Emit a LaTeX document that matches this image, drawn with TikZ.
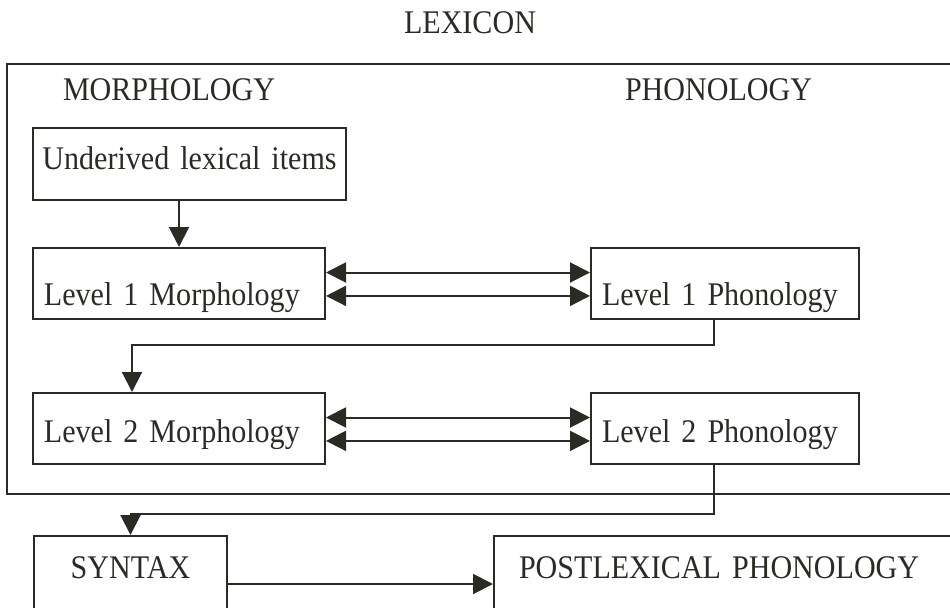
\documentclass[tikz,border=0pt]{standalone}
\usepackage{fontspec}
\setmainfont{Liberation Serif}[FakeStretch=0.91]
\usepackage{xcolor}
\usetikzlibrary{arrows.meta,positioning,calc}
\definecolor{lexink}{HTML}{2B2B25}
\newcommand\lexfont{\fontsize{23.5pt}{28pt}\selectfont\spaceskip=4.5pt plus 1pt\relax}

\begin{document}
\begin{tikzpicture}[font=\lexfont, color=lexink, line width=0.5mm,
  blk/.style={draw, anchor=north west, inner xsep=2.75mm, inner ysep=0pt, align=left},
  hd/.style={anchor=base west, inner sep=0pt},
  arr/.style={-{Triangle[length=5mm, width=5mm]}},
  dbl/.style={{Triangle[length=5mm, width=5mm]}-{Triangle[length=5mm, width=5mm]}}]
  \useasboundingbox (0,0) rectangle (237.5mm,-151.75mm);
  \clip (0,0) rectangle (237.5mm,-151.75mm);
  % ---------- lexicon frame ----------
  \node[hd, anchor=base] (lex) at (117.5mm,-8.25mm) {LEXICON};
  \draw (1.75mm,-16mm) rectangle (245mm,-123.5mm);
  \node[hd] (morph) at (15.5mm,-25mm) {MORPHOLOGY};
  \node[hd] (phon) at (156mm,-25mm) {PHONOLOGY};
  % ---------- levels ----------
  \node[blk, inner xsep=1mm, text width=76.25mm, align=center, text height=10.25mm, text depth=7.75mm] (u) at (8mm,-31.75mm) {Underived lexical items};
  \node[blk, text width=67.5mm, text height=14.25mm, text depth=3.5mm] (m1) at (8mm,-61.75mm) {Level 1 Morphology};
  \node[blk, text width=67.5mm, text height=12.25mm, text depth=5.5mm] (m2) at (8mm,-98mm) {Level 2 Morphology};
  \node[blk, text width=61.5mm, text height=14.25mm, text depth=3.5mm] (p1) at (147.5mm,-61.75mm) {Level 1 Phonology};
  \node[blk, text width=61.5mm, text height=12.25mm, text depth=5.5mm] (p2) at (147.5mm,-98mm) {Level 2 Phonology};
  \draw[arr] (u.south -| m1.north) -- (m1.north);
  \foreach \a/\b in {m1/p1, m2/p2}
    { \draw[dbl] ([yshift=2.75mm]\a.east) -- ([yshift=2.75mm]\b.west);
      \draw[dbl] ([yshift=-3.1mm]\a.east) -- ([yshift=-3.1mm]\b.west); }
  \draw[arr] ([xshift=-2.75mm]p1.south) -- ++(0,-6.25mm) -| ([xshift=-11.75mm]m2.north);
  % ---------- postlexical ----------
  \node[blk, text width=42.75mm, align=center, text height=10.5mm, text depth=13.5mm] (syn) at (8.25mm,-133.75mm) {SYNTAX};
  \node[blk, inner xsep=6.25mm, text width=110mm, text height=10.5mm, text depth=13.5mm] (post) at (123.25mm,-133.75mm) {POSTLEXICAL PHONOLOGY};
  \draw[arr] ([xshift=-2.75mm]p2.south) -- ++(0,-12.25mm) -| (syn.north);
  \draw[arr] (syn) -- (post);
\end{tikzpicture}
\end{document}
